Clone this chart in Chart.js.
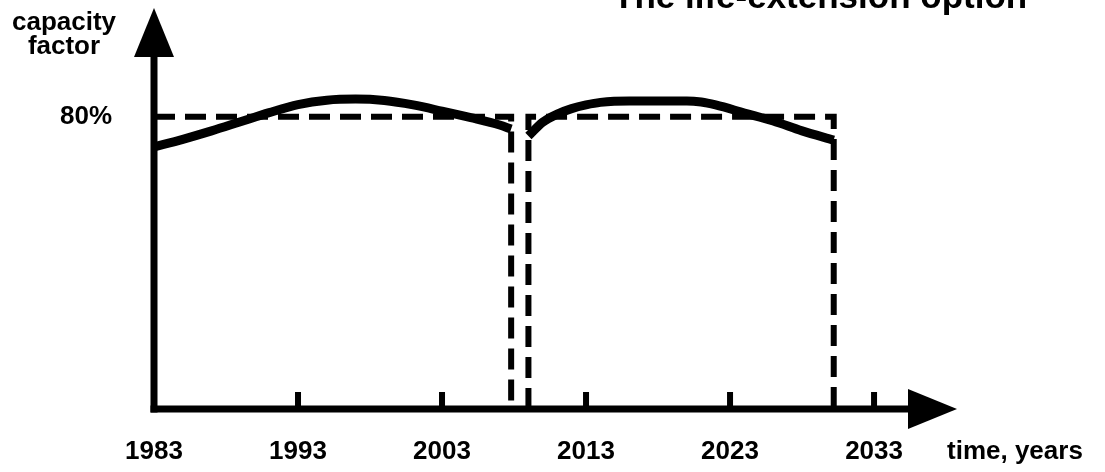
<!DOCTYPE html>
<html>
<head>
<meta charset="utf-8">
<script src="https://cdn.jsdelivr.net/npm/chart.js@4"></script>
<style>
  html, body { margin: 0; padding: 0; background: #fff; }
  #wrap { width: 1105px; height: 472px; position: relative; }
</style>
</head>
<body>
<div id="wrap"><canvas id="c"></canvas></div>
<script>
// ---- chart texts ----
const chartTitle = 'The life-extension option';
const yAxisTitle = ['capacity', 'factor'];
const xAxisTitle = 'time, years';

// ---- tick values ----
const xTickValues = [1983, 1993, 2003, 2013, 2023, 2033];
const yTickValues = [80];

// ---- first plant life (capacity factor, %) ----
const years1 = [1983, 1985, 1987, 1989, 1991, 1993, 1995, 1997, 1999, 2001, 2003, 2005, 2007, 2007.8];
const cf1    = [71.7, 73.8, 76.1, 78.6, 81.1, 83.3, 84.5, 84.8, 84.4, 83.2, 81.5, 79.7, 77.7, 76.6];

// ---- extended life (capacity factor, %) ----
const years2 = [2009.0, 2010, 2011, 2012, 2013, 2014, 2016, 2018, 2020, 2021, 2022, 2024, 2026, 2028, 2030.2];
const cf2    = [74.7, 78.5, 80.7, 82.2, 83.2, 83.9, 84.3, 84.3, 84.3, 84.0, 83.2, 81.0, 78.8, 76.1, 73.6];

// ---- planned 80% level with end-of-life markers ----
const planYears = [1983, 2007.8, 2007.8, 2008.4, 2009.0, 2009.0, 2030.2, 2030.2];
const planCF    = [80, 80, 0, null, 0, 80, 80, 0];

const FONT = '"Liberation Sans", Arial, Helvetica, sans-serif';
const zip = (xs, ys) => xs.map((x, i) => ({ x: x, y: ys[i] }));

const decor = {
  id: 'decor',
  afterDatasetsDraw(chart) {
    const { ctx, chartArea } = chart;
    const xs = chart.scales.x, ys = chart.scales.y;
    const x0 = xs.getPixelForValue(xTickValues[0]);
    const y0 = ys.getPixelForValue(0);
    ctx.save();
    ctx.fillStyle = '#000';
    ctx.strokeStyle = '#000';
    ctx.lineWidth = 7;
    ctx.lineCap = 'butt';
    // y axis
    ctx.beginPath();
    ctx.moveTo(x0, y0 + 3.5);
    ctx.lineTo(x0, chartArea.top + 46);
    ctx.stroke();
    // x axis
    ctx.beginPath();
    ctx.moveTo(x0 - 3.5, y0);
    ctx.lineTo(chartArea.right - 46, y0);
    ctx.stroke();
    // arrowheads
    ctx.beginPath();
    ctx.moveTo(x0, chartArea.top + 1);
    ctx.lineTo(x0 - 20, chartArea.top + 50);
    ctx.lineTo(x0 + 20, chartArea.top + 50);
    ctx.closePath();
    ctx.fill();
    ctx.beginPath();
    ctx.moveTo(chartArea.right, y0);
    ctx.lineTo(chartArea.right - 49, y0 - 20);
    ctx.lineTo(chartArea.right - 49, y0 + 20);
    ctx.closePath();
    ctx.fill();
    // tick marks (upward)
    xTickValues.slice(1).forEach(v => {
      const px = xs.getPixelForValue(v);
      ctx.fillRect(px - 3, y0 - 17, 6, 17);
    });
    ctx.restore();
  },
  afterDraw(chart) {
    const { ctx } = chart;
    const xs = chart.scales.x;
    ctx.save();
    ctx.fillStyle = '#000';
    // y axis title
    ctx.font = 'bold 26px ' + FONT;
    ctx.textAlign = 'center';
    ctx.textBaseline = 'alphabetic';
    ctx.fillText(yAxisTitle[0], 64, 30);
    ctx.fillText(yAxisTitle[1], 64, 54);
    // x axis title
    ctx.textAlign = 'left';
    ctx.textBaseline = 'middle';
    ctx.fillText(xAxisTitle, 947, xs.top + 27 + 26 * 1.2 / 2);
    // chart title (partly cut at top)
    ctx.font = 'bold 35px ' + FONT;
    ctx.textAlign = 'left';
    ctx.textBaseline = 'alphabetic';
    ctx.fillText(chartTitle, 613, 8);
    ctx.restore();
  }
};

new Chart(document.getElementById('c'), {
  type: 'line',
  data: {
    datasets: [
      {
        label: 'original life',
        data: zip(years1, cf1),
        borderColor: '#000',
        borderWidth: 9,
        pointRadius: 0,
        cubicInterpolationMode: 'monotone',
        fill: false,
        order: 0
      },
      {
        label: 'extended life',
        data: zip(years2, cf2),
        borderColor: '#000',
        borderWidth: 9,
        pointRadius: 0,
        cubicInterpolationMode: 'monotone',
        fill: false,
        order: 0
      },
      {
        label: '80% plan',
        data: zip(planYears, planCF),
        borderColor: '#000',
        borderWidth: 6,
        borderDash: [21, 10],
        pointRadius: 0,
        tension: 0,
        spanGaps: false,
        fill: false,
        order: 1
      }
    ]
  },
  options: {
    responsive: true,
    maintainAspectRatio: false,
    animation: false,
    layout: { padding: { left: 0, top: 7, right: 148, bottom: 0 } },
    plugins: {
      legend: { display: false },
      tooltip: { enabled: false },
      title: { display: false }
    },
    scales: {
      x: {
        type: 'linear',
        min: 1983,
        max: 2038.76,
        afterBuildTicks: s => { s.ticks = xTickValues.map(v => ({ value: v })); },
        afterFit: s => { s.height = 63; },
        grid: { display: false, drawTicks: false },
        border: { display: false },
        ticks: {
          padding: 27,
          color: '#000',
          autoSkip: false,
          maxRotation: 0,
          font: { family: FONT, size: 26, weight: 'bold', lineHeight: 1.2 },
          callback: v => String(v)
        }
      },
      y: {
        type: 'linear',
        min: 0,
        max: 110,
        afterBuildTicks: s => { s.ticks = yTickValues.map(v => ({ value: v })); },
        afterFit: s => { s.width = 154; s.paddingTop = 0; s.paddingBottom = 0; },
        grid: { display: false, drawTicks: false },
        border: { display: false },
        ticks: {
          padding: 42,
          color: '#000',
          font: { family: FONT, size: 26, weight: 'bold', lineHeight: 1.2 },
          callback: v => v + '%'
        }
      }
    }
  },
  plugins: [decor]
});
</script>
</body>
</html>
